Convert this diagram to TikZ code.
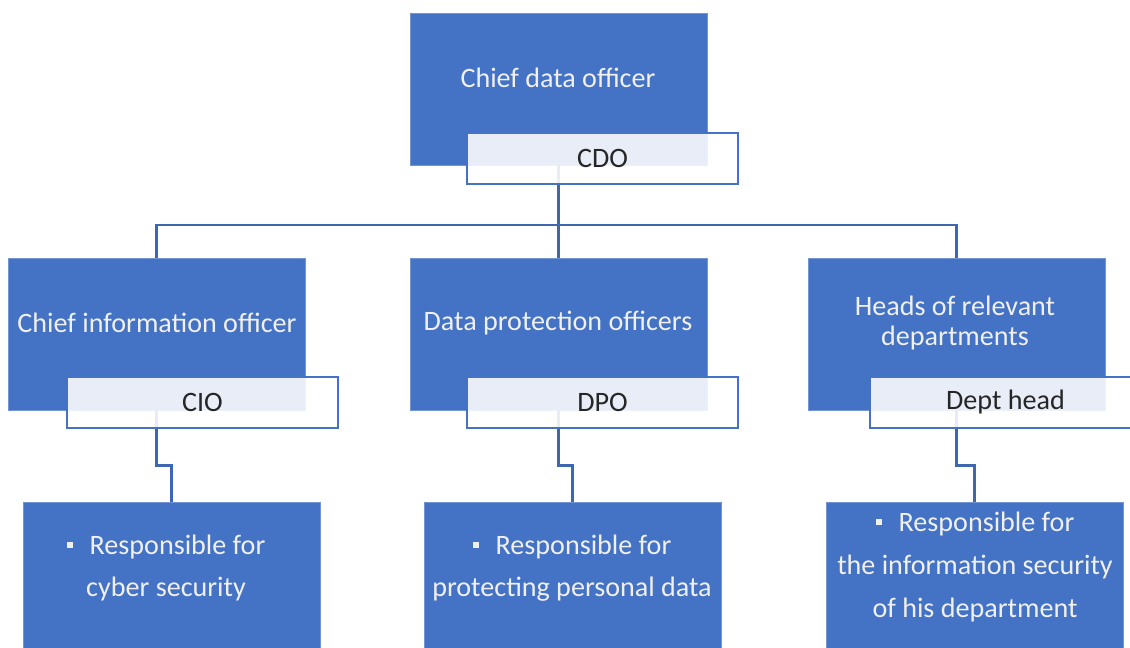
\documentclass[tikz,border=0pt]{standalone}
\usepackage{fontspec}
\setmainfont{Carlito}
\usetikzlibrary{calc}
\definecolor{roleblue}{HTML}{4472C4}
\newcommand{\sqbullet}{\rule[0.22em]{0.22em}{0.22em}\hspace{0.6em}}

\begin{document}
\begin{tikzpicture}[
    x=0.02cm,
    y=-0.02cm,
    every node/.style={font=\fontsize{16}{24}\selectfont},
    role/.style={fill=roleblue, draw=roleblue!75!white, minimum width=5.94cm, minimum height=3.04cm, inner sep=0pt},
    duty/.style={fill=roleblue, draw=roleblue!75!white, minimum width=5.94cm, minimum height=3.2cm, inner sep=0pt},
    tag/.style={draw=roleblue, line width=1pt, fill=white, fill opacity=0.88, text opacity=1, text=black!85, minimum width=5.42cm, minimum height=1.02cm, inner sep=0pt},
    roletext/.style={text=white!94!black, align=center},
    link/.style={draw=roleblue!90!black, line width=1.6pt}
]
    \clip (0,0) rectangle (1130,648);
    \fill[white] (0,0) rectangle (1130,648);

    % top level
    \node[role] (cdo) at (558.5,89) {};
    \node[roletext] (cdotext) at (558,78) {Chief data officer};

    % second level
    \node[role] (cio) at (156.5,334) {};
    \node[role] (dpo) at (558.5,334) {};
    \node[role] (heads) at (956.5,334) {};
    \node[roletext] (ciotext) at (157,323) {Chief information officer};
    \node[roletext] (dpotext) at (558,323) {Data protection officers};
    \node[roletext, font=\fontsize{16}{17.5}\selectfont] (headstext) at (955,323) {Heads of relevant\\departments};

    % duties
    \node[duty] (respcio) at (171.5,582) {};
    \node[duty] (respdpo) at (572.5,582) {};
    \node[duty] (respheads) at (974.5,582) {};
    \node[roletext] (ciodutytext) at (166,568) {\sqbullet Responsible for\\cyber security};
    \node[roletext] (dpodutytext) at (572,568) {\sqbullet Responsible for\\protecting personal data};
    \node[roletext, font=\fontsize{16}{24.5}\selectfont] (headsdutytext) at (975,567) {\sqbullet Responsible for\\the information security\\of his department};

    % connectors
    \coordinate (bus) at (558.5,225);
    \draw[link] (cdo.south) -- (bus);
    \draw[link] (cio.north) |- (bus) -| (heads.north);
    \draw[link] (bus) -- (dpo.north);
    \draw[link] (cio.south) -- ++(0,55) -| (respcio.north);
    \draw[link] (dpo.south) -- ++(0,55) -| (respdpo.north);
    \draw[link] (heads.south) -- ++(0,55) -| (respheads.north);

    % abbreviation tags
    \node[tag] (cdotag) at (602.5,158.5) {CDO};
    \node[tag] (ciotag) at (202.5,402.5) {CIO};
    \node[tag] (dpotag) at (602.5,402.5) {DPO};
    \node[tag] (headstag) at (1005.5,402.5) {Dept head};
\end{tikzpicture}
\end{document}
